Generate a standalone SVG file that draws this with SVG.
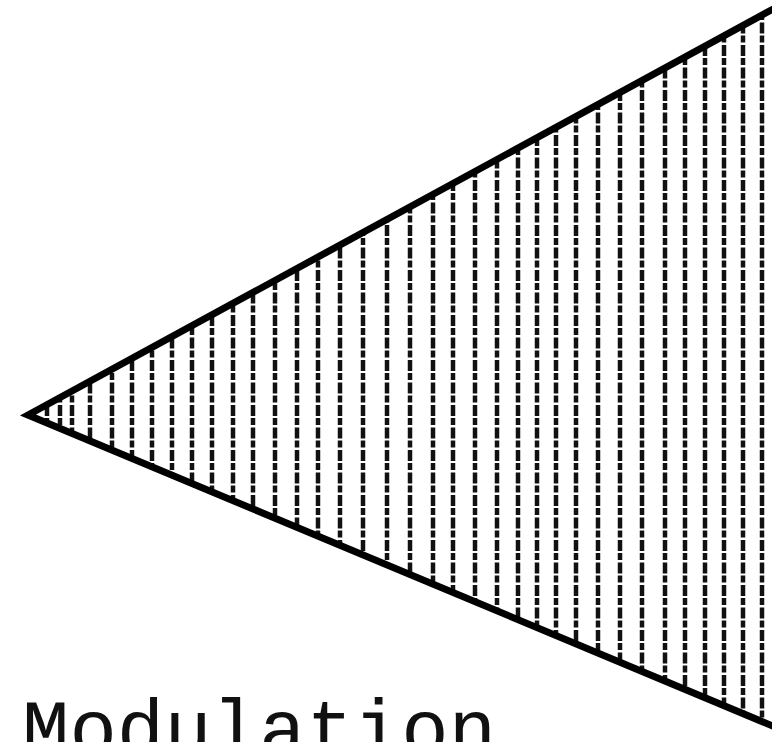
<svg xmlns="http://www.w3.org/2000/svg" width="772" height="742" viewBox="0 0 772 742">
<style>
.hatch line{stroke:#111;stroke-width:4.5;stroke-dasharray:11 2 7 2.5;}
.edge{fill:none;stroke:#000;stroke-width:7;stroke-linejoin:miter;stroke-linecap:round;}
.label{font-family:"Liberation Mono","DejaVu Sans Mono",monospace;font-size:79px;fill:#111;}
</style>
<defs>
<clipPath id="wedgeClip">
<polygon points="28,415 775,6 775,727"/>
</clipPath>
</defs>
<g id="wedge">
<g class="hatch" clip-path="url(#wedgeClip)">
<line x1="47" y1="0" x2="47" y2="742"/>
<line x1="60" y1="0" x2="60" y2="742"/>
<line x1="72" y1="0" x2="72" y2="742"/>
<line x1="90" y1="0" x2="90" y2="742"/>
<line x1="112" y1="0" x2="112" y2="742"/>
<line x1="132" y1="0" x2="132" y2="742"/>
<line x1="152" y1="0" x2="152" y2="742"/>
<line x1="172" y1="0" x2="172" y2="742"/>
<line x1="192" y1="0" x2="192" y2="742"/>
<line x1="212" y1="0" x2="212" y2="742"/>
<line x1="233" y1="0" x2="233" y2="742"/>
<line x1="253" y1="0" x2="253" y2="742"/>
<line x1="275" y1="0" x2="275" y2="742"/>
<line x1="297" y1="0" x2="297" y2="742"/>
<line x1="318" y1="0" x2="318" y2="742"/>
<line x1="340" y1="0" x2="340" y2="742"/>
<line x1="363" y1="0" x2="363" y2="742"/>
<line x1="387" y1="0" x2="387" y2="742"/>
<line x1="410" y1="0" x2="410" y2="742"/>
<line x1="433" y1="0" x2="433" y2="742"/>
<line x1="453" y1="0" x2="453" y2="742"/>
<line x1="475" y1="0" x2="475" y2="742"/>
<line x1="497" y1="0" x2="497" y2="742"/>
<line x1="518" y1="0" x2="518" y2="742"/>
<line x1="537" y1="0" x2="537" y2="742"/>
<line x1="556" y1="0" x2="556" y2="742"/>
<line x1="576" y1="0" x2="576" y2="742"/>
<line x1="598" y1="0" x2="598" y2="742"/>
<line x1="620" y1="0" x2="620" y2="742"/>
<line x1="642" y1="0" x2="642" y2="742"/>
<line x1="665" y1="0" x2="665" y2="742"/>
<line x1="685" y1="0" x2="685" y2="742"/>
<line x1="705" y1="0" x2="705" y2="742"/>
<line x1="724" y1="0" x2="724" y2="742"/>
<line x1="743" y1="0" x2="743" y2="742"/>
<line x1="762" y1="0" x2="762" y2="742"/>
</g>
<polyline class="edge" points="775,8 28,415 775,727"/>
</g>
<g id="label">
<text class="label" x="22" y="755">Modulation</text>
</g>
</svg>
